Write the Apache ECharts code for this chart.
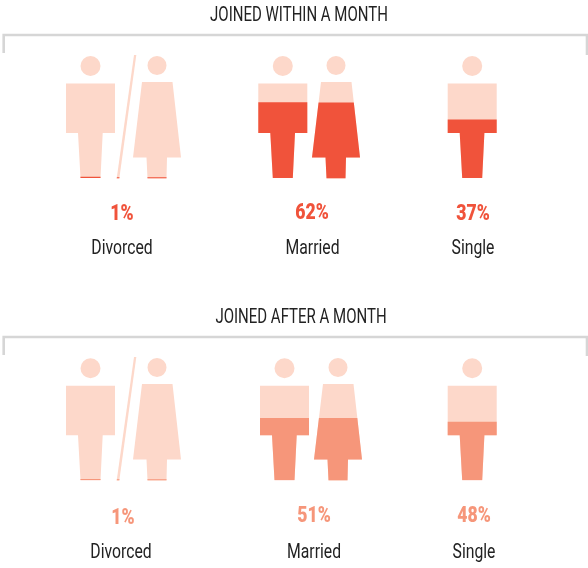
<!DOCTYPE html>
<html>
<head>
<meta charset="utf-8">
<style>html,body{margin:0;padding:0;background:#fff}#c{width:588px;height:568px}</style>
<script src="https://cdn.jsdelivr.net/npm/echarts@6/dist/echarts.min.js"></script>
</head>
<body>
<div id="c"></div>
<script>
// Data
var panelTitles = ['JOINED WITHIN A MONTH', 'JOINED AFTER A MONTH'];
var statuses = ['Divorced', 'Married', 'Single'];
var withinLabels = [1, 62, 37];
var afterLabels = [1, 51, 48];
// Fill level actually drawn in the icons (% of figure height)
var withinFill = [1, 62, 48];
var afterFill = [1, 51, 48];

// Icons
var MAN = 'path://M14.5 10A10 10 0 1 1 34.5 10A10 10 0 1 1 14.5 10ZM0 27.5H49V77H36.7L34.5 122H14.5L12 77H0Z';
var WOMAN = 'path://M14.5 9.5A9.5 9.5 0 1 1 33.5 9.5A9.5 9.5 0 1 1 14.5 9.5ZM9 26H39.5L48 101.5H34L33.5 122.5H14.5L13.5 101.5H0Z';
var SLASH = 'path://M17.3 0H19.6L2.6 123.5H0Z';
var LIGHT = '#fdd8ca';
var DARK = ['#f0533b', '#f6967a'];
var FONT = 'Roboto,sans-serif';

// Layout: [status index, icon, left, top, width, height] per panel
var layouts = [
  [[0, MAN, 66, 56, 49, 122], [0, SLASH, 116.7, 55, 19.6, 123.5], [0, WOMAN, 133, 56, 48, 122.5],
   [1, MAN, 258.3, 56, 49, 122], [1, WOMAN, 312, 56, 48, 122.5], [2, MAN, 447.7, 56, 49, 122]],
  [[0, MAN, 66, 358.3, 49, 122], [0, SLASH, 116.7, 357, 19.6, 123.5], [0, WOMAN, 133, 358, 48, 122.5],
   [1, MAN, 260, 358.3, 49, 122], [1, WOMAN, 314, 358, 48, 122.5], [2, MAN, 447.7, 358.3, 49, 122]]
];
var fills = [withinFill, afterFill];
var labels = [withinLabels, afterLabels];
var pctPos = [[[122, 214], [312, 213.5], [473, 214]], [[123, 518], [314, 516], [474, 516]]];
var namePos = [[[122, 249], [312.5, 249], [473, 249]], [[121, 553], [314, 553], [474, 553]]];
var titlePos = [[299, 16], [301, 318]];
var brackets = [
  [[3.7, 53], [3.7, 35], [587, 35], [587, 55]],
  [[3.7, 355], [3.7, 337], [587, 337], [587, 356]]
];

function textEl(x, y, text, font, fill, sx) {
  return {
    type: 'text', x: x, y: y, scaleX: sx, silent: true,
    style: { text: text, font: font, fill: fill, textAlign: 'center', textVerticalAlign: 'middle' }
  };
}

var grids = [], xAxes = [], yAxes = [], series = [], graphic = [];
layouts.forEach(function (panel, p) {
  panel.forEach(function (f) {
    var i = grids.length;
    grids.push({ left: f[2], top: f[3], width: f[4], height: f[5], containLabel: false });
    xAxes.push({ type: 'category', gridIndex: i, data: [statuses[f[0]]], show: false });
    yAxes.push({ type: 'value', gridIndex: i, min: 0, max: 100, show: false });
    var base = {
      type: 'pictorialBar', xAxisIndex: i, yAxisIndex: i, symbol: f[1],
      symbolSize: ['100%', '100%'], symbolBoundingData: 100, symbolPosition: 'start',
      symbolKeepAspect: false, silent: true, animation: false, barGap: '-100%', barWidth: '100%'
    };
    series.push(Object.assign({}, base, { data: [100], itemStyle: { color: LIGHT }, z: 2 }));
    series.push(Object.assign({}, base, { data: [fills[p][f[0]]], symbolClip: true, itemStyle: { color: DARK[p] }, z: 3 }));
  });
  graphic.push(textEl(titlePos[p][0], titlePos[p][1], panelTitles[p], '20px ' + FONT, '#222', 0.75));
  graphic.push({
    type: 'polyline', silent: true, shape: { points: brackets[p] },
    style: { stroke: '#d6d6d6', lineWidth: 2.6, fill: 'none' }
  });
  statuses.forEach(function (s, k) {
    graphic.push(textEl(pctPos[p][k][0], pctPos[p][k][1], labels[p][k] + '%', '900 22px ' + FONT, DARK[p], 0.8));
    graphic.push(textEl(namePos[p][k][0], namePos[p][k][1], s, '21px ' + FONT, '#222', 0.75));
  });
});

var chart = echarts.init(document.getElementById('c'), null, { renderer: 'canvas' });
chart.setOption({
  animation: false, backgroundColor: '#fff', tooltip: { show: false },
  grid: grids, xAxis: xAxes, yAxis: yAxes, series: series, graphic: graphic
});
</script>
</body>
</html>
